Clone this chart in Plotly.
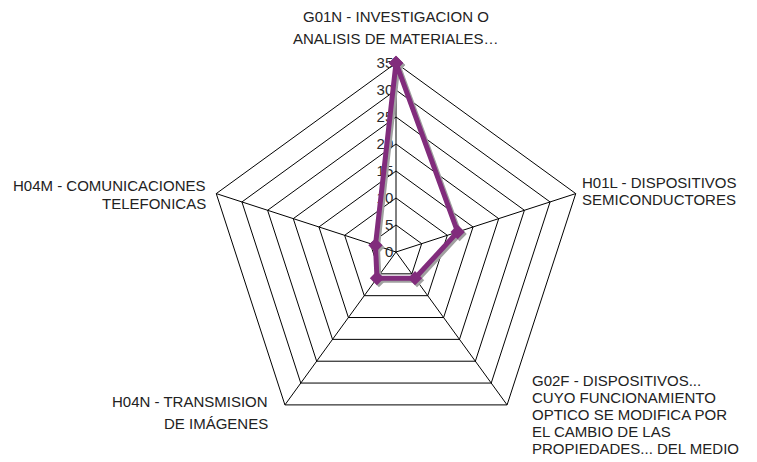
import plotly.graph_objects as go

# categorias (sentido horario desde arriba) y valores
codes = ["G01N", "H01L", "G02F", "H04N", "H04M"]
label_lines = [
    ["G01N - INVESTIGACION O", "ANALISIS DE MATERIALES…"],
    ["H01L - DISPOSITIVOS", "SEMICONDUCTORES"],
    ["G02F - DISPOSITIVOS...", "CUYO FUNCIONAMIENTO", "OPTICO SE MODIFICA POR",
     "EL CAMBIO DE LAS", "PROPIEDADES... DEL MEDIO"],
    ["H04N - TRANSMISION", "DE IMÁGENES"],
    ["H04M - COMUNICACIONES", "TELEFONICAS"],
]
values = [35, 12, 6, 6, 4]
radial_ticks = [0, 5, 10, 15, 20, 25, 30, 35]

W, H = 757, 462
OFF = 8  # margen por defecto del <body> en la pagina
purple = "#812C7C"
shadow = "#A0A0A0"

# centro y radio del radar en pixeles de pantalla
cx, cy, R = 396, 252, 189
fx, fy = cx - OFF, H - (cy - OFF)
dom_x = [(fx - R) / W, (fx + R) / W]
dom_y = [(fy - R) / H, (fy + R) / H]
sx, sy = 2 / W, 2 / H  # desplazamiento de la sombra

closed_r = values + values[:1]
closed_t = codes + codes[:1]

fig = go.Figure()
# traza invisible para que se dibuje la rejilla
fig.add_trace(go.Scatterpolar(
    r=closed_r, theta=closed_t, mode="lines", subplot="polar",
    line=dict(width=0), opacity=0, showlegend=False, hoverinfo="skip",
))
# sombra
fig.add_trace(go.Scatterpolar(
    r=closed_r, theta=closed_t, mode="lines+markers", subplot="polar2",
    line=dict(color=shadow, width=5),
    marker=dict(symbol="diamond", size=11, color=shadow),
    showlegend=False, hoverinfo="skip",
))
# serie
fig.add_trace(go.Scatterpolar(
    r=closed_r, theta=closed_t, mode="lines+markers", subplot="polar3",
    line=dict(color=purple, width=5),
    marker=dict(symbol="diamond", size=11, color=purple),
    showlegend=False,
))

hidden_radial = dict(range=[0, 35], visible=False, showgrid=False)
hidden_angular = dict(rotation=90, direction="clockwise", type="category",
                      categoryarray=codes, categoryorder="array",
                      visible=False, showgrid=False)

fig.update_layout(
    width=W, height=H,
    margin=dict(l=0, r=0, t=0, b=0),
    paper_bgcolor="white",
    font=dict(family="Liberation Sans", size=15, color="#222"),
    polar=dict(
        domain=dict(x=dom_x, y=dom_y),
        bgcolor="white",
        gridshape="linear",
        radialaxis=dict(
            range=[0, 35], tickvals=radial_ticks,
            angle=90, tickangle=90, side="counterclockwise",
            showline=False, ticks="",
            gridcolor="black", gridwidth=1,
            tickfont=dict(size=15, color="#2a2a2a"),
        ),
        angularaxis=dict(
            rotation=90, direction="clockwise", type="category",
            categoryarray=codes, categoryorder="array",
            showticklabels=False, ticks="",
            linecolor="black", linewidth=1,
            gridcolor="black", gridwidth=1,
        ),
    ),
    polar2=dict(
        domain=dict(x=[dom_x[0] + sx, dom_x[1] + sx], y=[dom_y[0] - sy, dom_y[1] - sy]),
        bgcolor="rgba(0,0,0,0)", gridshape="linear",
        radialaxis=hidden_radial, angularaxis=hidden_angular,
    ),
    polar3=dict(
        domain=dict(x=dom_x, y=dom_y),
        bgcolor="rgba(0,0,0,0)", gridshape="linear",
        radialaxis=hidden_radial, angularaxis=hidden_angular,
    ),
)

# etiquetas de categorias: (x px, y px centro 1a linea, interlineado, alineacion)
label_pos = [
    (396, 17, 21, "center"),
    (580, 182, 17, "left"),
    (530, 380, 17, "left"),
    (270, 401, 22, "right"),
    (208, 186, 17, "right"),
]
for lines, (x, y0, dy, xa) in zip(label_lines, label_pos):
    for i, line in enumerate(lines):
        fig.add_annotation(
            x=(x - OFF) / W, y=1 - (y0 + i * dy - OFF) / H,
            xref="paper", yref="paper",
            text=line, showarrow=False, xanchor=xa, yanchor="middle",
            font=dict(size=15, color="#222"),
        )

fig.write_html("out.html")
